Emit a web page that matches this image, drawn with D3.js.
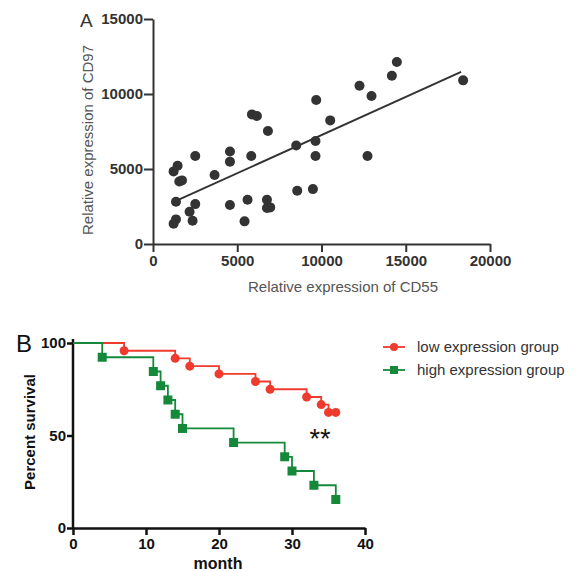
<!DOCTYPE html>
<html>
<head>
<meta charset="utf-8">
<script src="https://cdn.jsdelivr.net/npm/d3@7"></script>
<style>
  body { margin: 0; background: #fff; }
  svg { font-family: "Liberation Sans", Arial, sans-serif; }
</style>
</head>
<body>
<script>
let width = 581;
let height = 571;

// Panel A: CD55 vs CD97
let cd55 = [1222, 1460, 1560, 1720, 1364, 2509, 2509, 2171, 2350, 1364, 1222, 3654,
            4567, 4567, 4567, 5433, 5611, 5831, 5872, 6168, 6820, 6762, 6762, 6957,
            8500, 8560, 9490, 9645, 9645, 9687, 10517, 12255, 12730, 12967, 14176, 14472, 18405];
let cd97 = [4840, 5220, 4170, 4240, 2820, 5870, 2660, 2150, 1550, 1640, 1350, 4600,
            6170, 5490, 2600, 1510, 2950, 5870, 8640, 8530, 7530, 2950, 2400, 2440,
            6570, 3550, 3660, 6870, 5870, 9600, 8240, 10550, 5870, 9870, 11220, 12130, 10910];
let fitX = [1364, 18285];
let fitY = [2870, 11470];
let ticksA_x = [0, 5000, 10000, 15000, 20000];
let ticksA_y = [0, 5000, 10000, 15000];

// Panel B: survival
let lowMonths = [0, 7, 14, 16, 20, 25, 27, 32, 34, 35, 36];
let lowSurv = [100, 95.8, 91.7, 87.5, 83.3, 79.2, 75.0, 70.8, 66.7, 62.5, 62.5];
let highMonths = [0, 4, 11, 12, 13, 14, 15, 22, 29, 30, 33, 36];
let highSurv = [100, 92.3, 84.6, 76.9, 69.2, 61.5, 53.8, 46.2, 38.5, 30.8, 23.1, 15.4];
let ticksB_x = [0, 10, 20, 30, 40];
let ticksB_y = [0, 50, 100];
let groups = ["low expression group", "high expression group"];
let groupColors = ["#ee3b2d", "#16883a"];

let svg = d3.select("body").append("svg")
            .attr("width", width)
            .attr("height", height);

// ---------- Panel A ----------
let xA = d3.scaleLinear().domain([0, 20000]).range([153, 490]);
let yA = d3.scaleLinear().domain([0, 15000]).range([244, 19]);

let axA_x = svg.append("g")
  .attr("transform", "translate(0," + yA(0) + ")")
  .call(d3.axisBottom(xA).tickValues(ticksA_x).tickFormat(d3.format("d")).tickSize(8).tickSizeOuter(0).tickPadding(3));
let axA_y = svg.append("g")
  .attr("transform", "translate(" + xA(0) + ",0)")
  .call(d3.axisLeft(yA).tickValues(ticksA_y).tickFormat(d3.format("d")).tickSize(9).tickSizeOuter(0).tickPadding(1));
[axA_x, axA_y].forEach(function (g) {
  g.select(".domain").attr("stroke", "#333").attr("stroke-width", 2);
  g.selectAll(".tick line").attr("stroke", "#333").attr("stroke-width", 2);
  g.selectAll(".tick text").attr("fill", "#333").attr("font-size", 15)
   .attr("font-weight", "bold").attr("font-family", "Liberation Sans, Arial, sans-serif");
});

svg.append("text").attr("x", 80).attr("y", 27)
   .attr("font-size", 19).attr("fill", "#333").text("A");

svg.append("text")
   .attr("transform", "translate(93,140) rotate(-90)")
   .attr("text-anchor", "middle").attr("font-size", 15).attr("fill", "#555")
   .text("Relative expression of CD97");
svg.append("text")
   .attr("x", 343).attr("y", 292)
   .attr("text-anchor", "middle").attr("font-size", 15).attr("fill", "#555")
   .text("Relative expression of CD55");

svg.append("line")
   .attr("x1", xA(fitX[0])).attr("y1", yA(fitY[0]))
   .attr("x2", xA(fitX[1])).attr("y2", yA(fitY[1]))
   .attr("stroke", "#333").attr("stroke-width", 2);

svg.selectAll("circle.pt").data(d3.range(cd55.length)).enter().append("circle")
   .attr("class", "pt")
   .attr("cx", function (i) { return xA(cd55[i]); })
   .attr("cy", function (i) { return yA(cd97[i]); })
   .attr("r", 5)
   .attr("fill", "#333");

// ---------- Panel B ----------
let xB = d3.scaleLinear().domain([0, 40]).range([73, 365]);
let yB = d3.scaleLinear().domain([0, 100]).range([528, 343]);

let axB_x = svg.append("g")
  .attr("transform", "translate(0," + yB(0) + ")")
  .call(d3.axisBottom(xB).tickValues(ticksB_x).tickSize(7).tickSizeOuter(0).tickPadding(3));
let axB_y = svg.append("g")
  .attr("transform", "translate(" + xB(0) + ",0)")
  .call(d3.axisLeft(yB).tickValues(ticksB_y).tickSize(6).tickSizeOuter(0).tickPadding(1));
[axB_x, axB_y].forEach(function (g) {
  g.select(".domain").attr("stroke", "#111").attr("stroke-width", 2.5);
  g.selectAll(".tick line").attr("stroke", "#111").attr("stroke-width", 2.5);
  g.selectAll(".tick text").attr("fill", "#111").attr("font-size", 15)
   .attr("font-weight", "bold").attr("font-family", "Liberation Sans, Arial, sans-serif");
});
axB_y.select(".domain").attr("d", "M0," + (yB(0) + 1) + "V" + (yB(100) - 4));

svg.append("text").attr("x", 16).attr("y", 352)
   .attr("font-size", 24).attr("fill", "#111").text("B");
svg.append("text")
   .attr("transform", "translate(35,432) rotate(-90)")
   .attr("text-anchor", "middle").attr("font-size", 15).attr("font-weight", "bold")
   .attr("fill", "#111").text("Percent survival");
svg.append("text")
   .attr("x", 218).attr("y", 569)
   .attr("text-anchor", "middle").attr("font-size", 16).attr("font-weight", "bold")
   .attr("fill", "#111").text("month");

svg.append("text")
   .attr("x", 320).attr("y", 448)
   .attr("text-anchor", "middle").attr("font-size", 27).attr("fill", "#111")
   .text("**");

function stepPath(months, surv) {
  let pts = months.map(function (m, i) { return [xB(m), yB(surv[i])]; });
  return d3.line().curve(d3.curveStepAfter)(pts);
}

let series = [
  { months: highMonths, surv: highSurv, color: groupColors[1], shape: "square" },
  { months: lowMonths, surv: lowSurv, color: groupColors[0], shape: "circle" }
];
// draw low first, then high on top
series.slice().reverse().forEach(function (s) {
  svg.append("path")
     .attr("d", stepPath(s.months, s.surv))
     .attr("fill", "none").attr("stroke", s.color).attr("stroke-width", 1.8);
  let marks = svg.append("g");
  s.months.slice(1).forEach(function (m, j) {
    let cx = xB(m), cy = yB(s.surv[j + 1]);
    if (s.shape === "circle") {
      marks.append("circle").attr("cx", cx).attr("cy", cy).attr("r", 4.5).attr("fill", s.color);
    } else {
      marks.append("rect").attr("x", cx - 4.5).attr("y", cy - 4.5)
           .attr("width", 9).attr("height", 9).attr("fill", s.color);
    }
  });
});

// legend
let legend = svg.append("g");
groups.forEach(function (name, i) {
  let ly = 347 + i * 23;
  legend.append("line").attr("x1", 383).attr("x2", 405).attr("y1", ly).attr("y2", ly)
        .attr("stroke", groupColors[i]).attr("stroke-width", 1.8);
  if (i === 0) {
    legend.append("circle").attr("cx", 394).attr("cy", ly).attr("r", 4).attr("fill", groupColors[i]);
  } else {
    legend.append("rect").attr("x", 390).attr("y", ly - 4).attr("width", 8).attr("height", 8)
          .attr("fill", groupColors[i]);
  }
  legend.append("text").attr("x", 417).attr("y", ly + 5)
        .attr("font-size", 15).attr("fill", "#333").text(name);
});
</script>
</body>
</html>
